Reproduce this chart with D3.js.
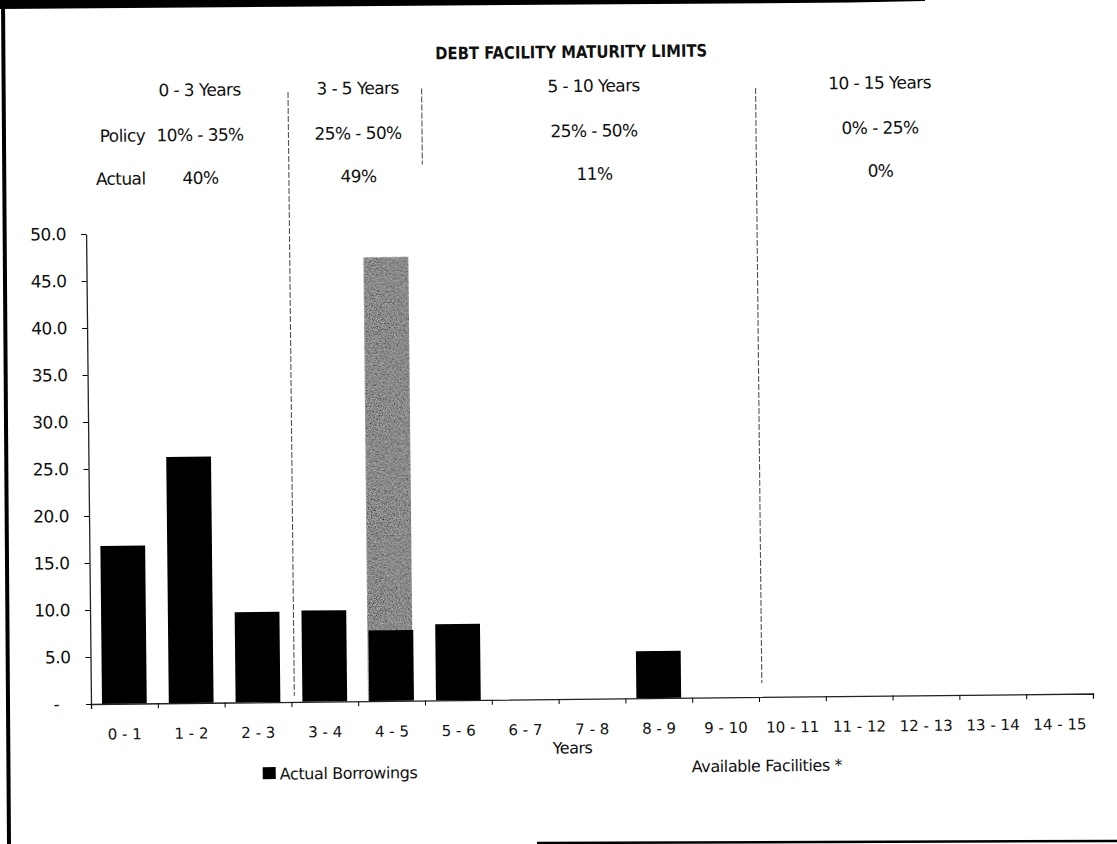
<!DOCTYPE html>
<html lang="en">
<head>
  <meta charset="UTF-8">
  <title>Debt Facility Maturity Limits</title>
  <script src="https://d3js.org/d3.v7.min.js"></script>
  <style>
    body { margin: 0; background: #fff; }
    svg { display: block; }
    text { font-family: "DejaVu Sans", sans-serif; fill: #111; }
  </style>
</head>
<body>
  <div id="chart"></div>

  <script>
    // data
    const categories = ["0 - 1", "1 - 2", "2 - 3", "3 - 4", "4 - 5", "5 - 6", "6 - 7", "7 - 8",
                        "8 - 9", "9 - 10", "10 - 11", "11 - 12", "12 - 13", "13 - 14", "14 - 15"];
    const actualBorrowings    = [16.8, 26.2, 9.6, 9.7, 7.5, 8.1, 0, 0, 5.0, 0, 0, 0, 0, 0, 0];
    const availableFacilities = [0, 0, 0, 0, 47.2, 0, 0, 0, 0, 0, 0, 0, 0, 0, 0];
    const yTicks = [0, 5, 10, 15, 20, 25, 30, 35, 40, 45, 50];

    const bucketLabels = ["0 - 3 Years", "3 - 5 Years", "5 - 10 Years", "10 - 15 Years"];
    const policyRanges = ["10% - 35%", "25% - 50%", "25% - 50%", "0% - 25%"];
    const actualShares = ["40%", "49%", "11%", "0%"];
    const bucketBreaks = [3, 5, 10];

    const width = 1117, height = 844;
    const svg = d3.select("#chart").append("svg")
      .attr("width", width)
      .attr("height", height);

    // grainy fill for the scanned grey bar
    const defs = svg.append("defs");
    const grain = defs.append("filter").attr("id", "grain")
      .attr("x", 0).attr("y", 0).attr("width", 1).attr("height", 1);
    grain.append("feTurbulence").attr("type", "fractalNoise")
      .attr("baseFrequency", 0.75).attr("numOctaves", 2).attr("seed", 7).attr("result", "noise");
    grain.append("feColorMatrix").attr("in", "noise").attr("type", "matrix")
      .attr("values", "0 0 0 0 0  0 0 0 0 0  0 0 0 0 0  1.6 0 0 0 -0.35")
      .attr("result", "dots");
    grain.append("feComposite").attr("in", "dots").attr("in2", "SourceGraphic")
      .attr("operator", "in").attr("result", "clipped");
    const merge = grain.append("feMerge");
    merge.append("feMergeNode").attr("in", "SourceGraphic");
    merge.append("feMergeNode").attr("in", "clipped");

    svg.append("rect").attr("width", width).attr("height", height).attr("fill", "#fff");

    // page frame from the scan
    svg.append("polygon")
      .attr("points", "0,0 925,0 925,1 850,2.5 0,9")
      .attr("fill", "#000");
    svg.append("line").attr("x1", 3).attr("y1", 0).attr("x2", 9).attr("y2", height)
      .attr("stroke", "#000").attr("stroke-width", 4);
    svg.append("line").attr("x1", 537).attr("y1", 843).attr("x2", width).attr("y2", 841)
      .attr("stroke", "#000").attr("stroke-width", 2.5);

    // the page was scanned slightly tilted
    const chart = svg.append("g").attr("transform", "rotate(-0.6, 91, 704)");

    const x = d3.scaleBand()
      .domain(categories)
      .range([91, 1093])
      .paddingInner(0.33)
      .paddingOuter(0.165);

    const years = d3.scaleLinear().domain([0, 15]).range([91, 1093]);

    const y = d3.scaleLinear().domain([0, 50]).range([704, 234]);

    // bucket dividers
    const dividerSpan = { 3: [94, 698], 5: [92, 168], 10: [95, 690] };
    chart.selectAll(".divider")
      .data(bucketBreaks)
      .enter()
      .append("line")
      .attr("class", "divider")
      .attr("x1", d => years(d) + 3)
      .attr("x2", d => years(d) + 3)
      .attr("y1", d => dividerSpan[d][0])
      .attr("y2", d => dividerSpan[d][1])
      .attr("stroke", "#555")
      .attr("stroke-width", 1.1)
      .attr("stroke-dasharray", "6,2");

    // available facilities (grey), behind actual borrowings (black)
    chart.selectAll(".avail")
      .data(categories.map((c, i) => ({ c, v: availableFacilities[i] })).filter(d => d.v > 0))
      .enter()
      .append("rect")
      .attr("class", "avail")
      .attr("x", d => x(d.c) - 1)
      .attr("y", d => y(d.v))
      .attr("width", x.bandwidth())
      .attr("height", d => y(0) - y(d.v))
      .attr("fill", "#b4b4b4")
      .attr("filter", "url(#grain)");

    chart.selectAll(".actual")
      .data(categories.map((c, i) => ({ c, v: actualBorrowings[i] })).filter(d => d.v > 0))
      .enter()
      .append("rect")
      .attr("class", "actual")
      .attr("x", d => x(d.c))
      .attr("y", d => y(d.v))
      .attr("width", x.bandwidth())
      .attr("height", d => y(0) - y(d.v))
      .attr("fill", "#000");

    // y axis
    const yAxis = chart.append("g")
      .attr("transform", "translate(91,0)")
      .call(d3.axisLeft(y)
        .tickValues(yTicks)
        .tickSize(5)
        .tickSizeOuter(0)
        .tickPadding(15)
        .tickFormat(d => d === 0 ? "-" : d3.format(".1f")(d)));
    yAxis.attr("font-family", null).attr("font-size", null);
    yAxis.select(".domain").attr("stroke", "#222").attr("stroke-width", 1.3);
    yAxis.selectAll("text").attr("font-size", 17).attr("letter-spacing", -0.5);
    yAxis.selectAll(".tick").filter(d => d === 0).select("text").attr("x", -32);

    // x axis line with ticks on the year boundaries
    const xTicks = chart.append("g")
      .attr("transform", "translate(0,704)")
      .call(d3.axisBottom(years)
        .tickValues(d3.range(0, 16))
        .tickSize(5)
        .tickSizeOuter(5)
        .tickFormat(""));
    xTicks.select(".domain").attr("stroke", "#222").attr("stroke-width", 1.3);

    // category labels
    const xLabels = chart.append("g")
      .attr("transform", "translate(0,704)")
      .call(d3.axisBottom(x).tickSize(0).tickPadding(25));
    xLabels.attr("font-family", null).attr("font-size", null);
    xLabels.select(".domain").remove();
    xLabels.selectAll("text").attr("font-size", 15);

    chart.append("text")
      .attr("x", 572)
      .attr("y", 753)
      .attr("text-anchor", "middle")
      .attr("dominant-baseline", "central")
      .attr("font-size", 16)
      .attr("letter-spacing", -0.5)
      .text("Years");

    // title
    chart.append("text")
      .attr("x", 578)
      .attr("y", 57)
      .attr("text-anchor", "middle")
      .attr("dominant-baseline", "central")
      .attr("font-size", 17)
      .attr("font-weight", "bold")
      .attr("textLength", 272)
      .attr("lengthAdjust", "spacingAndGlyphs")
      .text("DEBT FACILITY MATURITY LIMITS");

    // header table
    const colX = [206, 364, 600, 886];
    const rowY = [91, 136, 179];
    const rows = [bucketLabels, policyRanges, actualShares];
    rows.forEach((row, r) => {
      chart.selectAll(".row" + r)
        .data(row)
        .enter()
        .append("text")
        .attr("class", "row" + r)
        .attr("x", (d, i) => colX[i])
        .attr("y", rowY[r])
        .attr("text-anchor", "middle")
        .attr("dominant-baseline", "central")
        .attr("font-size", 17)
        .attr("letter-spacing", -0.6)
        .text(d => d);
    });
    chart.selectAll(".rowLabel")
      .data(["Policy", "Actual"])
      .enter()
      .append("text")
      .attr("class", "rowLabel")
      .attr("x", 151)
      .attr("y", (d, i) => rowY[i + 1])
      .attr("text-anchor", "end")
      .attr("dominant-baseline", "central")
      .attr("font-size", 17)
      .attr("letter-spacing", -0.6)
      .text(d => d);

    // legend
    chart.append("rect")
      .attr("x", 262).attr("y", 769)
      .attr("width", 13).attr("height", 12)
      .attr("fill", "#000");
    chart.append("text")
      .attr("x", 279).attr("y", 776)
      .attr("dominant-baseline", "central")
      .attr("font-size", 16)
      .attr("letter-spacing", -0.4)
      .text("Actual Borrowings");
    chart.append("text")
      .attr("x", 691).attr("y", 773)
      .attr("dominant-baseline", "central")
      .attr("font-size", 16)
      .attr("letter-spacing", -0.4)
      .text("Available Facilities *");
  </script>
</body>
</html>
